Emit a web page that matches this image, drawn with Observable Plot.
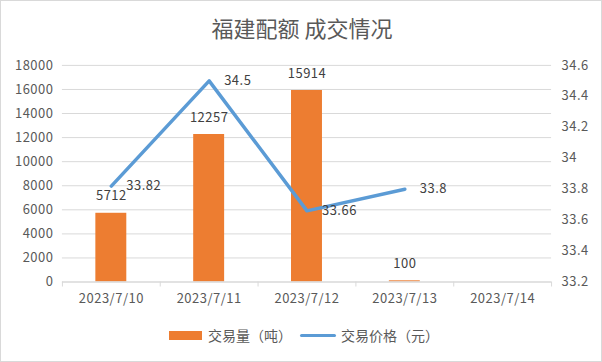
<!DOCTYPE html>
<html>
<head>
<meta charset="utf-8">
<script src="https://cdn.jsdelivr.net/npm/d3@7"></script>
<script src="https://cdn.jsdelivr.net/npm/@observablehq/plot@0.6"></script>
<style>
  body { margin: 0; background: #fff; }
  #chart { position: relative; width: 602px; height: 362px; box-sizing: border-box; border: 1px solid #d9d9d9; background: #fff; overflow: hidden; font-family: "Noto Sans CJK SC", "Noto Sans", sans-serif; }
  #title { position: absolute; left: 0; top: 10px; width: 602px; text-align: center; font-size: 22px; color: #595959; line-height: 32px; }
  #plot { position: absolute; left: -1px; top: -1px; }
  #plot svg text { letter-spacing: 0.5px; }
  #legend { position: absolute; left: 0; top: 324px; width: 602px; display: flex; justify-content: center; align-items: center; font-size: 14px; color: #595959; padding-left: 2px; }
  .sw-bar { display: inline-block; width: 33px; height: 9px; background: #ed7d31; margin-right: 6px; }
  .sw-line { display: inline-block; width: 36px; height: 3px; background: #5b9bd5; margin: 0 5px 0 8px; border-radius: 2px; }
</style>
</head>
<body>
<div id="chart">
  <div id="title">福建配额 成交情况</div>
  <div id="plot"></div>
  <div id="legend"><span class="sw-bar"></span><span>交易量（吨）</span><span class="sw-line"></span><span>交易价格（元）</span></div>
</div>
<script>
const dates = ["2023/7/10", "2023/7/11", "2023/7/12", "2023/7/13", "2023/7/14"];
const volumes = [5712, 12257, 15914, 100, null];
const prices = [33.82, 34.5, 33.66, 33.8, null];
const leftTicks = [0, 2000, 4000, 6000, 8000, 10000, 12000, 14000, 16000, 18000];
const rightTicks = [33.2, 33.4, 33.6, 33.8, 34.0, 34.2, 34.4, 34.6];
const rightTickLabels = ["33.2", "33.4", "33.6", "33.8", "34", "34.2", "34.4", "34.6"];

const leftMax = 18000;
const rMin = 33.2, rMax = 34.6;
const toLeft = p => (p - rMin) / (rMax - rMin) * leftMax;

const barData = dates.map((d, i) => ({date: d, v: volumes[i]})).filter(d => d.v != null);
const lineData = dates.map((d, i) => ({date: d, p: prices[i]})).filter(d => d.p != null);

const grey = "#595959";
const plot = Plot.plot({
  width: 602,
  height: 320,
  marginTop: 65,
  marginBottom: 38,
  marginLeft: 62,
  marginRight: 50,
  style: {fontFamily: "'Noto Sans CJK SC', 'Noto Sans', sans-serif", fontSize: "13px", color: grey, background: "transparent"},
  x: {type: "band", domain: dates, padding: 0},
  y: {domain: [0, leftMax]},
  marks: [
    Plot.gridY(leftTicks.slice(1), {stroke: "#d9d9d9", strokeOpacity: 1}),
    Plot.ruleX(dates, {x: d => d, dx: -49, y1: 0, y2: 0, insetBottom: -5, stroke: "#d9d9d9"}),
    Plot.ruleX(dates.slice(-1), {x: d => d, dx: 49, y1: 0, y2: 0, insetBottom: -5, stroke: "#d9d9d9"}),
    Plot.barY(barData, {x: "date", y: "v", fill: "#ed7d31", insetLeft: 33.5, insetRight: 33.5}),
    Plot.ruleY([0], {stroke: "#d9d9d9", strokeWidth: 1.5}),
    Plot.text(barData, {x: "date", y: "v", text: d => String(d.v), dy: -17, fill: "#404040", fontSize: 13}),
    Plot.line(lineData, {x: "date", y: d => toLeft(d.p), stroke: "#5b9bd5", strokeWidth: 3.5, strokeLinejoin: "round", strokeLinecap: "round"}),
    Plot.text(lineData, {x: "date", y: d => toLeft(d.p), text: d => String(d.p), dx: 15, textAnchor: "start", fill: "#404040", fontSize: 13}),
    Plot.axisY(leftTicks, {anchor: "left", tickSize: 0, tickPadding: 9, label: null, fill: grey, fontSize: 13, tickFormat: d => String(d)}),
    Plot.axisY(rightTicks.map(toLeft), {anchor: "right", tickSize: 0, tickPadding: 10, label: null, fill: grey, fontSize: 13,
      tickFormat: (d, i) => rightTickLabels[i]}),
    Plot.axisX(dates, {tickSize: 0, tickPadding: 12, label: null, fill: grey, fontSize: 13})
  ]
});
document.getElementById("plot").appendChild(plot);
</script>
</body>
</html>
